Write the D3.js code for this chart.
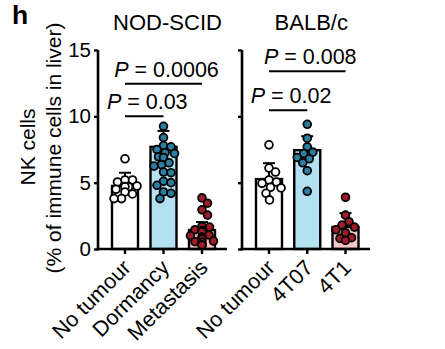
<!DOCTYPE html>
<html><head><meta charset="utf-8">
<script src="https://cdn.jsdelivr.net/npm/d3@7"></script>
<style>
body{margin:0;background:#fff}
svg{display:block}
text{font-family:"Liberation Sans",Arial,Helvetica,sans-serif;fill:#000}
</style></head><body>
<script>
// ---------- data ----------
const panelTitles = ["NOD-SCID", "BALB/c"];
const categoriesNod = ["No tumour", "Dormancy", "Metastasis"];
const categoriesBalb = ["No tumour", "4T07", "4T1"];
const yTicks = [0, 5, 10, 15];

const nodNoTumour = [6.8, 5.2, 5.2, 5.05, 4.75, 4.7, 4.7, 4.5, 4.3, 4.15, 3.8, 3.8];
const nodDormancy = [9.25, 8.4, 7.8, 7.7, 7.5, 7.25, 7.2, 6.95, 6.9, 6.5, 6.35, 6.25, 5.8, 5.75, 5.1, 5.0, 4.8, 4.3, 4.2, 3.8];
const nodMetastasis = [3.85, 3.45, 2.95, 2.55, 1.7, 1.65, 1.45, 1.4, 1.3, 1.05, 1.0, 0.9, 0.75, 0.6, 0.55, 0.5, 0.3, 0.3];
const balbNoTumour = [7.85, 6.1, 5.8, 5.2, 5.05, 4.95, 4.65, 4.6, 4.2, 3.7];
const balb4T07 = [9.4, 8.35, 7.7, 7.3, 7.2, 6.9, 6.8, 6.5, 5.9, 4.35];
const balb4T1 = [3.9, 2.55, 2.05, 1.8, 1.65, 1.45, 1.2, 1.2, 0.85, 0.8, 0.65];

const meansNod = [4.75, 7.7, 1.43];
const sdNod = [1.0, 1.2, 0.6];
const meansBalb = [5.27, 7.45, 1.66];
const sdBalb = [1.2, 1.05, 1.05];

const compsNod = [{a: 0, b: 1, y: 10.0, p: "0.03"}, {a: 0, b: 2, y: 12.45, p: "0.0006"}];
const compsBalb = [{a: 0, b: 1, y: 10.45, p: "0.02"}, {a: 0, b: 2, y: 13.4, p: "0.008"}];

const barFills = ["#ffffff", "#b3e1f1", "#f6c5c5"];
const dotFills = ["#ffffff", "#2b7e9f", "#9f1c29"];

// ---------- layout ----------
const W = 445, H = 349;
const svg = d3.select("body").append("svg").attr("width", W).attr("height", H);
const y = d3.scaleLinear().domain([0, 15]).range([249, 50]);

const panels = [
  {title: panelTitles[0], cats: categoriesNod, groups: [nodNoTumour, nodDormancy, nodMetastasis],
   means: meansNod, sd: sdNod, comps: compsNod, axisX: 98, xr: [125, 202], xEnd: 227, labels: true},
  {title: panelTitles[1], cats: categoriesBalb, groups: [balbNoTumour, balb4T07, balb4T1],
   means: meansBalb, sd: sdBalb, comps: compsBalb, axisX: 242, xr: [269, 345.5], xEnd: 370, labels: false}
];

const barW = 26, r = 3.9;

function swarm(vals, cx) {
  const placed = [];
  const sorted = vals.slice().sort((a, b) => b - a);
  sorted.forEach(v => {
    const py = y(v);
    let best = null;
    for (let k = 0; k <= 24; k++) {
      const cands = k === 0 ? [0] : [k * 0.5, -k * 0.5];
      for (const off of cands) {
        const ok = placed.every(p => Math.hypot(p.x - (cx + off), p.y - py) >= 2 * r * 0.95);
        if (ok) { best = off; break; }
      }
      if (best !== null) break;
    }
    if (best === null) best = 0;
    placed.push({x: cx + best, y: py});
  });
  return placed;
}

panels.forEach(P => {
  const x = d3.scalePoint().domain(P.cats).range(P.xr);
  const g = svg.append("g");

  // bars
  g.selectAll("rect.bar").data(P.cats).join("rect")
    .attr("x", d => x(d) - barW / 2).attr("width", barW)
    .attr("y", (d, i) => y(P.means[i]))
    .attr("height", (d, i) => y(0) - y(P.means[i]))
    .attr("fill", (d, i) => barFills[i]).attr("stroke", "#000").attr("stroke-width", 2.4);

  // error bars (upward)
  P.cats.forEach((c, i) => {
    const cx = x(c);
    g.append("line").attr("x1", cx).attr("x2", cx)
      .attr("y1", y(P.means[i])).attr("y2", y(P.means[i] + P.sd[i]))
      .attr("stroke", "#000").attr("stroke-width", 2);
    g.append("line").attr("x1", cx - 6).attr("x2", cx + 6)
      .attr("y1", y(P.means[i] + P.sd[i])).attr("y2", y(P.means[i] + P.sd[i]))
      .attr("stroke", "#000").attr("stroke-width", 2);
  });

  // dots
  P.groups.forEach((vals, i) => {
    const pts = swarm(vals, x(P.cats[i]));
    g.selectAll(null).data(pts).join("circle")
      .attr("cx", d => d.x).attr("cy", d => d.y).attr("r", r)
      .attr("fill", dotFills[i]).attr("stroke", "#000").attr("stroke-width", 1.8);
  });

  // y axis
  const ya = d3.axisLeft(y).tickValues(yTicks).tickSize(4).tickSizeOuter(0).tickPadding(3);
  if (!P.labels) ya.tickFormat("");
  const yg = g.append("g").attr("transform", `translate(${P.axisX},0)`).call(ya);
  yg.select(".domain").attr("stroke-width", 2.6).attr("d", `M0,${y(15)}V${y(0) + 1.3}`);
  yg.selectAll(".tick line").attr("stroke-width", 2.4);
  yg.selectAll(".tick text").attr("font-size", 20.5).style("font-family", '"Liberation Sans",Arial,sans-serif');

  // x axis
  g.append("line").attr("x1", P.axisX - 1.3).attr("x2", P.xEnd)
    .attr("y1", y(0)).attr("y2", y(0)).attr("stroke", "#000").attr("stroke-width", 2.6);
  P.cats.forEach(c => {
    g.append("line").attr("x1", x(c)).attr("x2", x(c)).attr("y1", y(0)).attr("y2", y(0) + 5)
      .attr("stroke", "#000").attr("stroke-width", 2.4);
    g.append("text").attr("text-anchor", "end").attr("font-size", 21.5)
      .attr("transform", `translate(${x(c) + 7},${y(0) + 20}) rotate(-45)`).text(c);
  });

  // comparisons
  P.comps.forEach(cp => {
    const x1 = x(P.cats[cp.a]), x2 = x(P.cats[cp.b]);
    const ly = y(cp.y);
    g.append("line").attr("x1", x1).attr("x2", x2).attr("y1", ly).attr("y2", ly)
      .attr("stroke", "#000").attr("stroke-width", 2);
    const t = g.append("text").attr("text-anchor", "middle").attr("font-size", 21.5)
      .attr("x", (x1 + x2) / 2 + 3).attr("y", ly - 7);
    t.append("tspan").attr("font-style", "italic").text("P");
    t.append("tspan").text(" = " + cp.p);
  });

  // title
  g.append("text").attr("text-anchor", "middle").attr("font-size", 22)
    .attr("x", (P.xr[0] + P.xr[1]) / 2 + 4).attr("y", 30).text(P.title);
});

// y axis title
svg.append("text").attr("text-anchor", "middle").attr("font-size", 21)
  .attr("transform", "translate(35,147) rotate(-90)").text("NK cells");
svg.append("text").attr("text-anchor", "middle").attr("font-size", 21)
  .attr("transform", "translate(61,148) rotate(-90)").text("(% of immune cells in liver)");

// panel letter
svg.append("text").attr("x", 12).attr("y", 24).attr("font-size", 26.5).attr("font-weight", "bold").text("h");
</script>
</body></html>
